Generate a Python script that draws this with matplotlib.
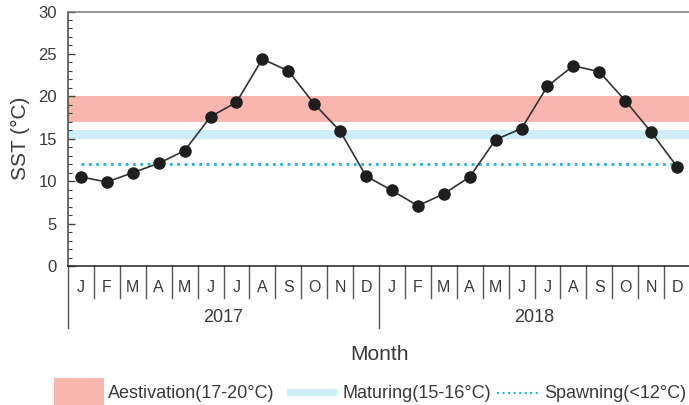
import matplotlib
matplotlib.use("Agg")
import matplotlib.pyplot as plt
import matplotlib.patches as mpatches
import matplotlib.lines as mlines
import matplotlib.transforms as mtransforms
from matplotlib.ticker import MultipleLocator

plt.rcParams["font.family"] = ["Liberation Sans", "DejaVu Sans"]

# ── Data ────────────────────────────────────────────────────────────────────
months = ["J", "F", "M", "A", "M", "J", "J", "A", "S", "O", "N", "D"]
years = ["2017", "2018"]
sst_2017 = [10.5, 9.9, 11.0, 12.1, 13.6, 17.6, 19.3, 24.4, 23.0, 19.1, 15.9, 10.6]
sst_2018 = [8.9, 7.1, 8.5, 10.5, 14.9, 16.2, 21.2, 23.6, 22.9, 19.5, 15.8, 11.7]
aestivation = (17, 20)
maturing = (15, 16)
spawning = 12

RED = "#f9b6ae"
BLUE = "#cbeef9"
CYAN = "#22b2e2"
TXT = "#3a3a3a"

W, H = 689, 405
fig = plt.figure(figsize=(W / 100, H / 100), dpi=100)


def fx(px):
    return px / W


def fy(py):
    return 1 - py / H


ax = fig.add_axes([fx(68), fy(266), fx(690) - fx(68), fy(11.5) - fy(266)])

values = sst_2017 + sst_2018
labels = months * len(years)
x = list(range(len(values)))

ax.axhspan(*aestivation, color=RED, lw=0, zorder=1)
ax.axhspan(*maturing, color=BLUE, lw=0, zorder=1)
ax.plot([x[0], x[-1]], [spawning, spawning], ls=":", color=CYAN, lw=2, zorder=2)
ax.plot(x, values, "-o", color="#333333", lw=1.2, markersize=8,
        markerfacecolor="#1e1e1e", markeredgecolor="#1e1e1e", zorder=3)

ax.set_xlim(-0.5, len(values) - 0.5)
ax.set_ylim(0, 30)
ax.yaxis.set_major_locator(MultipleLocator(5))
ax.yaxis.set_minor_locator(MultipleLocator(1))
ax.tick_params(axis="y", which="major", direction="in", length=5, width=1,
               color="#444444", labelsize=12, labelcolor=TXT, pad=8)
ax.tick_params(axis="y", which="minor", direction="in", length=3, width=0.8,
               color="#444444")
ax.set_xticks(x)
ax.set_xticklabels(labels)
ax.tick_params(axis="x", length=0, labelsize=11.5, labelcolor=TXT, pad=10)

ax.spines["right"].set_visible(False)
ax.spines["top"].set_color("#777777")
ax.spines["left"].set_color("#444444")
ax.spines["bottom"].set_color("#222222")
for s in ("top", "left", "bottom"):
    ax.spines[s].set_linewidth(1.1)

ax.set_ylabel("SST (°C)", fontsize=15, color=TXT, labelpad=6)

# Month cell separators and year separators below the axis
trans = mtransforms.blended_transform_factory(ax.transData, ax.transAxes)
ax_h = (266 - 11.5)
short = -(297.5 - 266) / ax_h
long_ = -(328 - 266) / ax_h
for k in range(len(values)):
    edge = k - 0.5
    bottom = long_ if k % 12 == 0 else short
    ax.add_line(mlines.Line2D([edge, edge], [0, bottom], transform=trans,
                              color="#555555", lw=1, clip_on=False))
for i, yr in enumerate(years):
    ax.text(i * 12 + 5.5, -(318 - 266) / ax_h, yr, transform=trans,
            ha="center", va="center", fontsize=13, color=TXT)

fig.text(fx(379), fy(354), "Month", ha="center", va="center",
         fontsize=15, color=TXT)

# Legend row along the bottom
fig.add_artist(mpatches.Rectangle((fx(54), fy(412)), fx(104) - fx(54),
                                  fy(378) - fy(412), transform=fig.transFigure,
                                  color=RED, lw=0))
fig.text(fx(108), fy(393), "Aestivation(17-20°C)", ha="left", va="center",
         fontsize=13, color=TXT)
fig.add_artist(mpatches.Rectangle((fx(287), fy(396)), fx(337) - fx(287),
                                  fy(389) - fy(396), transform=fig.transFigure,
                                  color=BLUE, lw=0))
fig.text(fx(343), fy(393), "Maturing(15-16°C)", ha="left", va="center",
         fontsize=13, color=TXT)
fig.add_artist(mlines.Line2D([fx(497), fx(539)], [fy(393), fy(393)],
                             transform=fig.transFigure, color=CYAN, ls=":",
                             lw=1.5))
fig.text(fx(544), fy(393), "Spawning(<12°C)", ha="left", va="center",
         fontsize=13, color=TXT)

fig.savefig("out.png", dpi=100)
